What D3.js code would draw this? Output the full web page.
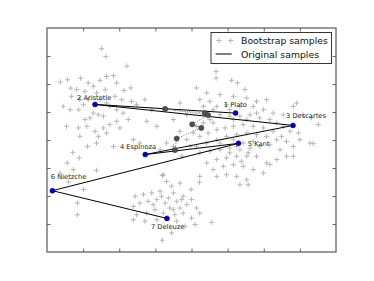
<!DOCTYPE html>
<html>
<head>
<meta charset="utf-8">
<script src="https://cdnjs.cloudflare.com/ajax/libs/d3/7.8.5/d3.min.js"></script>
<style>
  body { margin: 0; background: #fff; }
  text { font-family: "DejaVu Sans", sans-serif; }
</style>
</head>
<body>
<script>
// Philosophers and their original positions (arbitrary units, axes have no labels)
const names = ["1 Plato", "2 Aristotle", "3 Descartes", "4 Espinoza", "5 Kant", "6 Nietzche", "7 Deleuze"];
const origX = [5.22, 1.33, 6.81, 2.72, 5.30, 0.15, 3.32];
const origY = [4.96, 5.27, 4.52, 3.48, 3.88, 2.19, 1.20];

// mean of the bootstrap samples for each philosopher
const meanX = [4.37, 3.27, 4.46, 4.02, 4.27, 3.59, 3.54];
const meanY = [4.96, 5.11, 4.89, 4.56, 4.43, 4.05, 3.64];

// label offsets in pixels (style, not data)
const labelDx = [-11.7, -18, -7, -25.3, 9.3, -1.6, -16];
const labelDy = [-6.5, -4, -7, -6, 2.7, -11.7, 10.8];

// bootstrap samples
const bootstrap = [
  [1.51,7.26],[1.63,6.98],[2.21,6.64],[0.37,6.07],[0.57,6.15],[0.93,6.21],[1.14,6.04],[0.66,5.85],
  [1.28,5.92],[1.47,6.13],[1.65,6.27],[1.84,6.30],[1.93,6.04],[2.13,5.77],[2.32,5.86],[0.82,5.80],
  [1.05,5.74],[1.37,5.68],[1.61,5.80],[1.88,5.56],[2.07,5.44],[2.34,5.38],[2.48,5.26],[2.71,5.44],
  [0.68,5.56],[0.91,5.44],[1.01,5.26],[1.14,5.44],[1.47,5.44],[1.65,5.32],[1.74,5.20],[1.93,5.08],
  [2.11,4.96],[2.25,4.73],[1.56,4.85],[1.42,4.90],[1.28,4.96],[1.19,4.79],[1.05,4.73],[0.88,5.08],
  [0.64,5.08],[0.45,5.20],[0.54,4.49],[0.87,4.43],[1.10,4.49],[1.33,4.31],[1.56,4.43],[1.74,4.55],
  [1.93,4.67],[2.02,4.43],[1.65,4.25],[1.42,4.13],[0.91,4.13],[1.12,3.77],[1.37,3.89],[1.84,3.77],
  [0.71,3.56],[0.89,3.36],[0.56,3.18],[0.73,2.94],[0.36,2.82],[0.59,2.50],[0.84,1.75],[0.84,1.33],
  [1.01,2.23],[1.37,2.92],[2.39,4.01],[2.57,3.89],[2.76,4.67],[3.04,4.49],[2.90,5.08],
  [3.19,2.73],[3.31,2.52],[3.45,2.35],[3.68,2.46],[3.99,2.23],[4.22,2.49],[2.44,1.99],[2.67,2.05],
  [2.90,2.11],[3.13,2.17],[3.50,2.11],[3.77,1.99],[4.00,1.87],[2.39,1.63],[2.57,1.75],[2.80,1.81],
  [3.04,1.87],[3.27,1.75],[3.59,1.81],[3.87,1.69],[4.14,1.57],[4.23,1.39],[2.48,1.33],[2.76,1.39],
  [2.99,1.51],[3.22,1.39],[3.50,1.51],[3.77,1.39],[4.00,1.21],[2.39,1.15],[2.71,1.10],[3.04,1.15],
  [3.59,1.10],[3.82,0.92],[4.10,0.98],[4.56,1.06],[3.45,0.68],[3.19,0.42],[2.94,1.69],[3.40,1.57],
  [3.68,1.57],[3.36,1.93],[3.17,1.99],[3.54,1.33],[3.31,1.21],[3.73,1.87],
  [4.68,6.45],[4.68,6.21],[5.11,6.13],[5.48,5.80],[5.27,6.04],[4.14,5.86],[4.42,5.68],[4.79,5.62],
  [5.16,5.56],[5.53,5.50],[5.80,5.38],[6.08,5.44],[4.23,5.44],[4.51,5.38],[4.70,5.20],[4.97,5.26],
  [5.34,5.20],[5.71,5.20],[5.99,5.08],[6.26,4.96],[6.54,4.90],[6.82,5.20],[6.91,5.32],[7.09,4.90],
  [7.32,4.79],[7.51,4.55],[7.28,3.89],[7.37,3.87],[6.96,4.25],[6.73,4.31],[6.54,4.49],[6.36,4.61],
  [6.17,4.73],[5.89,4.79],[5.62,4.90],[5.34,4.85],[5.06,4.85],[4.79,4.90],[4.51,4.73],[4.33,4.61],
  [4.14,4.49],[4.05,4.25],[4.23,4.13],[4.46,4.25],[4.70,4.37],[4.93,4.43],[5.16,4.49],[5.43,4.55],
  [5.71,4.49],[5.99,4.43],[6.26,4.31],[6.49,4.13],[6.63,3.95],[6.82,3.77],[7.00,4.01],[6.36,4.01],
  [6.08,4.13],[5.80,4.19],[5.53,4.25],[5.25,4.19],[4.97,4.13],[4.70,4.01],[4.42,3.89],[4.14,3.77],
  [3.87,4.01],[3.68,4.31],[3.96,3.77],[4.23,3.54],[4.51,3.60],[4.79,3.65],[5.06,3.71],[5.34,3.65],
  [5.62,3.71],[5.89,3.77],[6.17,3.83],[6.45,3.65],[6.63,3.42],[6.36,3.30],[6.08,3.18],[5.80,3.42],
  [5.53,3.42],[5.25,3.42],[4.97,3.36],[4.70,3.30],[4.42,3.18],[4.60,2.94],[4.88,3.06],[5.16,3.12],
  [5.43,3.06],[5.71,2.94],[5.99,2.82],[5.53,2.58],[5.25,2.70],[4.97,2.76],[4.70,2.70],[5.34,2.40],
  [5.57,2.40],[4.23,2.70],[6.17,3.12],[6.82,3.42],[5.16,4.01],[5.43,3.89],[5.71,3.95],[5.25,3.77],
  [5.57,3.54],[5.38,3.24],[5.06,3.54],[4.79,3.89],[4.60,4.61],[5.16,4.73],[5.53,4.73],[5.80,4.96],
  [5.06,5.08],[4.60,5.08],[4.33,5.20],
  [3.31,3.89],[3.50,3.77],[3.13,3.65],[3.68,5.32],[3.87,4.90],[3.50,4.73],[3.73,3.42],[3.22,2.76]
];

const legendItems = ["Bootstrap samples", "Original samples"];

const width = 374;
const height = 281;
const svg = d3.select('body').append('svg')
    .attr('width', width)
    .attr('height', height);

const x = d3.scaleLinear().domain([0, 8]).range([47, 336]);
const y = d3.scaleLinear().domain([0, 8]).range([252, 28]);

// inward ticks on all four sides, no labels
const tickVals = d3.range(1, 8);
const tickLen = 3.5;
svg.append('g').attr('transform', 'translate(0,252)')
    .call(d3.axisBottom(x).tickValues(tickVals).tickSize(-tickLen).tickFormat(''));
svg.append('g').attr('transform', 'translate(0,28)')
    .call(d3.axisTop(x).tickValues(tickVals).tickSize(-tickLen).tickFormat(''));
svg.append('g').attr('transform', 'translate(47,0)')
    .call(d3.axisLeft(y).tickValues(tickVals).tickSize(-tickLen).tickFormat(''));
svg.append('g').attr('transform', 'translate(336,0)')
    .call(d3.axisRight(y).tickValues(tickVals).tickSize(-tickLen).tickFormat(''));
svg.selectAll('.domain').remove();
svg.selectAll('.tick line').attr('stroke', '#444').attr('stroke-width', 0.8);

// bootstrap plus markers
const plus = d3.symbol().type(d3.symbolCross);
function plusPath(cx, cy, s) {
    return `M${cx - s},${cy}H${cx + s}M${cx},${cy - s}V${cy + s}`;
}
svg.append('g')
    .selectAll('path')
    .data(bootstrap)
    .enter().append('path')
    .attr('d', d => plusPath(x(d[0]), y(d[1]), 2.6))
    .attr('stroke', '#b0b0b0')
    .attr('stroke-width', 0.9)
    .attr('fill', 'none');

// original samples path
const orig = names.map((n, i) => ({ name: n, x: origX[i], y: origY[i], dx: labelDx[i], dy: labelDy[i] }));
const line = d3.line().x(d => x(d.x)).y(d => y(d.y));
svg.append('path')
    .datum(orig)
    .attr('d', line)
    .attr('fill', 'none')
    .attr('stroke', '#000')
    .attr('stroke-width', 1);

// mean of bootstrap samples
const means = meanX.map((v, i) => ({ x: v, y: meanY[i] }));
svg.append('path')
    .datum(means)
    .attr('d', line)
    .attr('fill', 'none')
    .attr('stroke', '#555')
    .attr('stroke-width', 0.8)
    .attr('stroke-dasharray', '1,1.5');
svg.append('g')
    .selectAll('circle')
    .data(means)
    .enter().append('circle')
    .attr('cx', d => x(d.x))
    .attr('cy', d => y(d.y))
    .attr('r', 2.6)
    .attr('fill', '#505050')
    .attr('stroke', '#333')
    .attr('stroke-width', 0.5);

// original points and labels
svg.append('g')
    .selectAll('circle')
    .data(orig)
    .enter().append('circle')
    .attr('cx', d => x(d.x))
    .attr('cy', d => y(d.y))
    .attr('r', 2.5)
    .attr('fill', '#0000cc')
    .attr('stroke', '#000055')
    .attr('stroke-width', 0.5);

svg.append('g')
    .selectAll('text')
    .data(orig)
    .enter().append('text')
    .attr('x', d => x(d.x) + d.dx)
    .attr('y', d => y(d.y) + d.dy)
    .attr('font-size', 6.7)
    .attr('fill', '#222')
    .text(d => d.name);

// frame
svg.append('rect')
    .attr('x', 47).attr('y', 28)
    .attr('width', 289).attr('height', 224)
    .attr('fill', 'none')
    .attr('stroke', '#555')
    .attr('stroke-width', 1.2);

// legend
const legend = svg.append('g');
legend.append('rect')
    .attr('x', 211).attr('y', 32.5)
    .attr('width', 120.5).attr('height', 31)
    .attr('fill', '#fff')
    .attr('stroke', '#222')
    .attr('stroke-width', 0.9);
legend.selectAll('path.mk')
    .data([219, 230.7])
    .enter().append('path')
    .attr('class', 'mk')
    .attr('d', d => plusPath(d, 40.5, 2.6))
    .attr('stroke', '#b0b0b0')
    .attr('stroke-width', 0.9);
legend.append('line')
    .attr('x1', 215.7).attr('x2', 231.7)
    .attr('y1', 54).attr('y2', 54)
    .attr('stroke', '#000')
    .attr('stroke-width', 1);
legend.selectAll('text')
    .data(legendItems)
    .enter().append('text')
    .attr('x', 241)
    .attr('y', (d, i) => 44.3 + i * 13.3)
    .attr('font-size', 9.3)
    .attr('fill', '#111')
    .text(d => d);
</script>
</body>
</html>
